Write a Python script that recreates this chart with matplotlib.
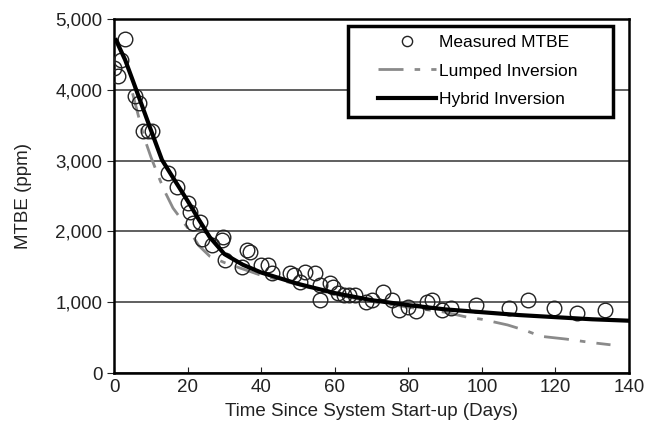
import matplotlib.pyplot as plt
from matplotlib.patches import Rectangle
from matplotlib.ticker import FuncFormatter

plt.rcParams['font.family'] = ['Liberation Sans', 'DejaVu Sans']

# measured MTBE (days, ppm)
meas_days = [0, 1, 1.9, 3, 5.7, 6.8, 7.9, 9.2, 10.3, 14.7, 17, 20, 20.6, 21.5,
             23.3, 23.9, 26.6, 29.3, 29.6, 30.1, 34.7, 36, 36.9, 40, 41.8, 42.9,
             47.7, 49, 50.5, 51.8, 54.5, 56, 56, 58.6, 59.5, 61, 62.5, 64, 65.5,
             68.6, 70, 73, 75.7, 77.6, 79.8, 82, 85, 86.5, 89.3, 91.7, 98.5,
             107.4, 112.6, 119.6, 125.9, 133.5]
meas_ppm = [4310, 4200, 4420, 4720, 3910, 3810, 3420, 3420, 3420, 2820, 2630, 2400,
            2270, 2120, 2130, 1900, 1810, 1880, 1920, 1600, 1500, 1740, 1710, 1530,
            1530, 1410, 1410, 1380, 1290, 1430, 1410, 1240, 1030, 1270, 1220, 1130,
            1100, 1100, 1100, 1000, 1030, 1140, 1030, 890, 930, 870, 1000, 1030,
            890, 920, 960, 920, 1030, 920, 850, 890]

# lumped inversion curve
lump_days = [5, 8, 10, 12.5, 14, 16, 20, 23, 26, 30, 35, 40, 50, 60, 70, 80, 90,
             96, 100, 107, 112, 116, 123, 130, 135]
lump_ppm = [3950, 3350, 3050, 2720, 2540, 2330, 2050, 1800, 1650, 1560, 1470, 1380,
            1250, 1110, 1010, 930, 860, 790, 760, 680, 600, 520, 480, 430, 400]

# hybrid inversion curve
hyb_days = [0.5, 3, 5, 8, 10, 13, 16, 20, 23, 26, 30, 35, 40, 50, 60, 70, 80, 90,
            100, 110, 120, 130, 140]
hyb_ppm = [4700, 4420, 4140, 3715, 3430, 3010, 2760, 2430, 2170, 1920, 1680, 1530,
           1420, 1260, 1130, 1030, 960, 900, 860, 820, 790, 760, 740]

fig = plt.figure(figsize=(6.45, 4.4), dpi=100)
ax = fig.add_axes([0.177, 0.152, 0.798, 0.805])

ax.plot(meas_days, meas_ppm, 'o', ms=10.5, mfc='none', mec='#222222', mew=1.0,
        label='Measured MTBE', zorder=3)
ax.plot(lump_days, lump_ppm, color='#8a8a8a', lw=2, dashes=[9, 4, 2, 4],
        label='Lumped Inversion', zorder=2)
ax.plot(hyb_days, hyb_ppm, color='black', lw=3, label='Hybrid Inversion', zorder=4)

ax.set_xlim(0, 140)
ax.set_ylim(0, 5000)
ax.set_xticks(range(0, 141, 20))
ax.set_yticks(range(0, 5001, 1000))
ax.yaxis.set_major_formatter(FuncFormatter(lambda v, p: '{:,.0f}'.format(v)))
ax.yaxis.grid(True, color='#444444', lw=1.2)
ax.set_axisbelow(True)
ax.tick_params(axis='x', direction='in', length=4, labelsize=13.5, pad=4, colors='#222222')
ax.tick_params(axis='y', direction='out', length=5, labelsize=13.5, colors='#222222')
for s in ax.spines.values():
    s.set_linewidth(1.8)

ax.set_xlabel('Time Since System Start-up (Days)', fontsize=13.5, color='#222222', labelpad=5)
ax.set_ylabel('MTBE (ppm)', fontsize=13.5, color='#222222', labelpad=17)

# legend box drawn separately so it can have the wide side padding
ax.add_patch(Rectangle((0.454, 0.723), 0.515, 0.257, transform=ax.transAxes,
                       facecolor='white', edgecolor='black', lw=2.5, zorder=5))
leg = ax.legend(loc='upper left', bbox_to_anchor=(0.513, 0.954), fontsize=12.5,
                handlelength=3.3, frameon=False, borderpad=0, borderaxespad=0,
                labelspacing=0.75, handletextpad=0.2, markerscale=0.7)
leg.set_zorder(6)

fig.savefig('out.png', dpi=100)
